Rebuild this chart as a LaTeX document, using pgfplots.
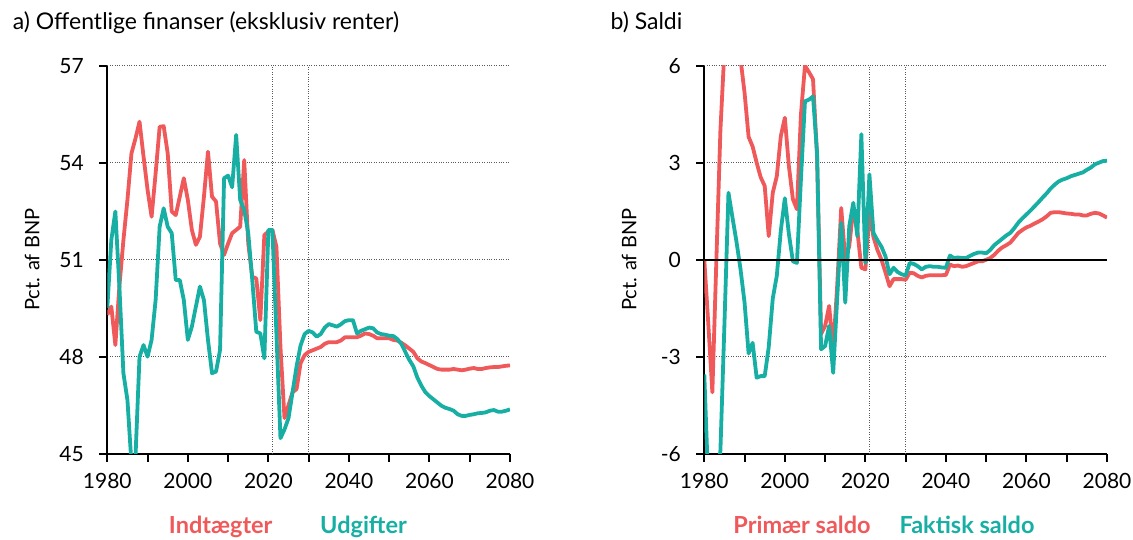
\documentclass[border=0pt]{standalone}
\usepackage{fontspec}
\setmainfont{Lato}
\usepackage{pgfplots}
\usepackage{pgfplotstable}
\pgfplotsset{compat=1.18}
\definecolor{cred}{HTML}{F0595A}
\definecolor{cteal}{HTML}{17AFA3}

\pgfplotstableread{
year ind udg
1980 49.3 49.5
1981 49.55 51.61
1982 48.36 52.49
1983 50.17 50.17
1984 51.6 47.49
1985 52.85 46.66
1986 54.29 44.7
1987 54.75 44.9
1988 55.27 48.0
1989 54.19 48.36
1990 53.16 48.0
1991 52.33 48.52
1992 53.67 49.75
1993 55.11 52.02
1994 55.13 52.59
1995 54.29 52.02
1996 52.49 51.82
1997 52.38 50.37
1998 52.95 50.37
1999 53.52 49.75
2000 52.85 48.52
2001 51.92 48.93
2002 51.46 49.55
2003 51.71 50.17
2004 52.95 49.75
2005 54.34 48.52
2006 52.95 47.49
2007 52.8 47.54
2008 51.5 48.21
2009 51.15 53.52
2010 51.5 53.6
2011 51.82 53.24
2012 51.92 54.86
2013 52.02 52.85
2014 54.08 52.54
2015 51.5 51.82
2016 50.47 50.37
2017 50.42 48.77
2018 49.13 48.72
2019 51.76 47.95
2020 51.87 51.92
2021 51.92 51.92
2022 51.4 48.7
2023 48.3 45.48
2024 46.1 45.75
2025 46.5 46.1
2026 46.9 46.9
2027 47.0 47.7
2028 47.8 48.35
2029 48.05 48.7
2030 48.15 48.8
2031 48.2 48.75
2032 48.25 48.62
2033 48.3 48.7
2034 48.4 48.9
2035 48.45 49.01
2036 48.45 48.97
2037 48.45 48.93
2038 48.5 49.0
2039 48.6 49.1
2040 48.6 49.13
2041 48.6 49.13
2042 48.6 48.72
2043 48.65 48.8
2044 48.72 48.85
2045 48.7 48.9
2046 48.65 48.88
2047 48.57 48.75
2048 48.57 48.7
2049 48.57 48.68
2050 48.57 48.65
2051 48.52 48.64
2052 48.5 48.55
2053 48.43 48.4
2054 48.35 48.15
2055 48.25 47.9
2056 48.15 47.7
2057 47.95 47.35
2058 47.85 47.1
2059 47.8 46.9
2060 47.74 46.78
2061 47.68 46.68
2062 47.62 46.58
2063 47.6 46.48
2064 47.6 46.42
2065 47.6 46.38
2066 47.62 46.33
2067 47.6 46.22
2068 47.58 46.17
2069 47.6 46.17
2070 47.63 46.2
2071 47.65 46.22
2072 47.62 46.25
2073 47.62 46.26
2074 47.65 46.28
2075 47.67 46.33
2076 47.68 46.35
2077 47.68 46.3
2078 47.7 46.3
2079 47.72 46.33
2080 47.73 46.37
}\tabA

\pgfplotstableread{
year prim fakt
1980 0.0 -3.55
1981 -2.0 -7.0
1982 -4.1 -7.5
1983 0.0 -7.0
1984 4.0 -5.9
1985 6.5 -2.0
1986 9.5 2.07
1987 9.8 1.3
1988 7.3 0.55
1989 6.2 -0.3
1990 5.16 -1.33
1991 3.8 -2.9
1992 3.5 -2.57
1993 3.0 -3.65
1994 2.55 -3.6
1995 2.28 -3.6
1996 0.73 -2.7
1997 2.07 -1.2
1998 2.58 -0.5
1999 3.82 0.9
2000 4.39 1.9
2001 2.9 0.8
2002 1.87 -0.05
2003 1.56 -0.1
2004 4.5 2.5
2005 6.0 4.9
2006 5.8 4.95
2007 5.58 5.05
2008 3.2 3.3
2009 -2.3 -2.77
2010 -2.05 -2.67
2011 -1.43 -2.05
2012 -2.8 -3.5
2013 -0.8 -1.2
2014 1.6 1.14
2015 0.0 -1.33
2016 0.42 1.04
2017 1.6 1.76
2018 0.9 0.73
2019 -0.25 3.88
2020 -0.3 -0.1
2021 1.45 2.64
2022 0.7 0.83
2023 0.3 0.6
2024 0.0 0.4
2025 -0.4 0.1
2026 -0.82 -0.45
2027 -0.6 -0.25
2028 -0.6 -0.38
2029 -0.6 -0.45
2030 -0.62 -0.49
2031 -0.4 -0.1
2032 -0.42 -0.13
2033 -0.5 -0.2
2034 -0.55 -0.3
2035 -0.5 -0.22
2036 -0.48 -0.2
2037 -0.48 -0.22
2038 -0.48 -0.22
2039 -0.48 -0.24
2040 -0.47 -0.25
2041 -0.15 0.13
2042 -0.2 0.05
2043 -0.18 0.07
2044 -0.22 0.05
2045 -0.2 0.05
2046 -0.15 0.12
2047 -0.1 0.18
2048 -0.05 0.22
2049 -0.05 0.22
2050 0.0 0.2
2051 0.05 0.3
2052 0.15 0.45
2053 0.28 0.55
2054 0.38 0.65
2055 0.45 0.75
2056 0.53 0.83
2057 0.68 0.98
2058 0.83 1.15
2059 0.92 1.28
2060 1.0 1.4
2061 1.05 1.52
2062 1.12 1.65
2063 1.18 1.78
2064 1.25 1.92
2065 1.34 2.05
2066 1.45 2.2
2067 1.47 2.32
2068 1.47 2.42
2069 1.45 2.48
2070 1.43 2.52
2071 1.42 2.58
2072 1.4 2.62
2073 1.4 2.66
2074 1.37 2.7
2075 1.37 2.78
2076 1.42 2.85
2077 1.45 2.95
2078 1.43 3.0
2079 1.37 3.05
2080 1.3 3.06
}\tabB

\pgfplotsset{
 myaxis/.style={
  width=402.7pt, height=388pt, scale only axis,
  anchor=south west,
  xmin=1980, xmax=2080,
  axis x line*=bottom, axis y line*=left,
  axis line style={line width=2.2pt, black},
  xtick={1980,1990,...,2080},
  xticklabels={1980,,2000,,2020,,2040,,2060,,2080},
  tick align=outside,
  major tick length=8pt,
  tick style={line width=2pt, black},
  ymajorgrids,
  grid style={dotted, line width=0.9pt, black!65},
  extra x ticks={2021,2030},
  extra x tick labels={},
  extra x tick style={grid=major, major tick length=0pt},
  ticklabel style={font=\fontsize{21}{25}\selectfont},
  xticklabel style={yshift=-8pt},
  yticklabel style={xshift=-12pt},
  every axis y label/.style={at={(axis description cs:0,0.5)}, rotate=90, anchor=center, yshift=75pt, font=\fontsize{20}{24}\selectfont},
  ylabel={Pct. af BNP},
  clip=true,
  every axis plot/.append style={line width=3.8pt, line join=round},
 }
}

\begin{document}
\begin{tikzpicture}
\path[use as bounding box] (0,0) rectangle (1133pt,539pt);

\begin{axis}[myaxis, at={(107.3pt,85.3pt)},
  ymin=45, ymax=57, ytick={45,48,51,54,57}, yticklabels={45,48,51,54,57}]
\addplot[cred] table[x=year,y=ind] {\tabA};
\addplot[cteal] table[x=year,y=udg] {\tabA};
\end{axis}

\begin{axis}[myaxis, at={(704.3pt,85.3pt)},
  ymin=-6, ymax=6, ytick={-6,-3,0,3,6}, yticklabels={-6,-3,0,3,6}]
\addplot[cred] table[x=year,y=prim] {\tabB};
\addplot[cteal] table[x=year,y=fakt] {\tabB};
\addplot[black, line width=2.2pt] coordinates {(1980,0) (2080,0)};
\end{axis}

\node[anchor=base west, font=\fontsize{23}{26}\selectfont] at (9.3pt,509.7pt) {a) Offentlige finanser (eksklusiv renter)};
\node[anchor=base west, font=\fontsize{23}{26}\selectfont] at (607pt,509.7pt) {b) Saldi};

\node[anchor=base, text=cred, font=\bfseries\fontsize{23.5}{26}\selectfont] at (220.7pt,5.5pt) {Indtægter};
\node[anchor=base, text=cteal, font=\bfseries\fontsize{23.5}{26}\selectfont] at (363.5pt,5.5pt) {Udgifter};
\node[anchor=base, text=cred, font=\bfseries\fontsize{23.5}{26}\selectfont] at (802pt,5.5pt) {Primær saldo};
\node[anchor=base, text=cteal, font=\bfseries\fontsize{23.5}{26}\selectfont] at (967pt,5.5pt) {Faktisk saldo};
\end{tikzpicture}
\end{document}
